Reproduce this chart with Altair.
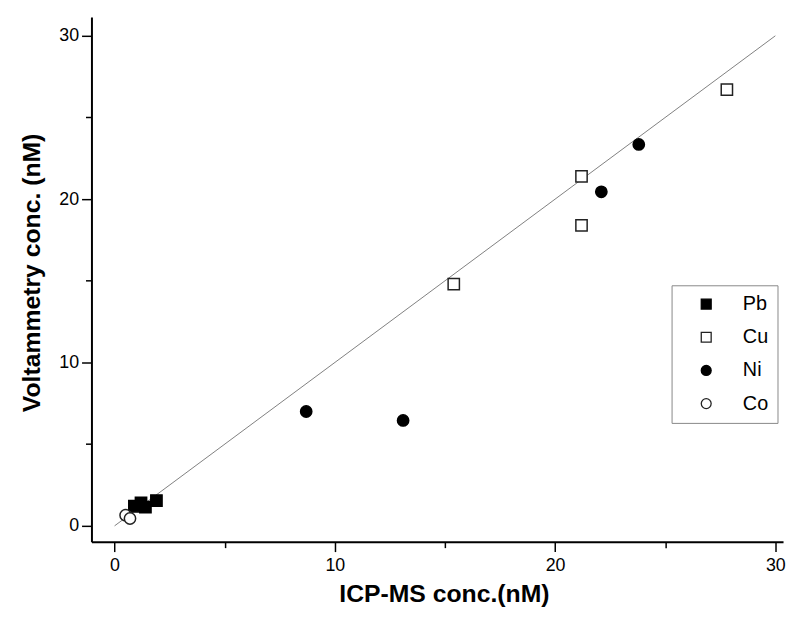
import altair as alt
import pandas as pd

metals = ["Pb", "Cu", "Ni", "Co"]
pb_x = [0.9, 1.2, 1.4, 1.9]
pb_y = [1.2, 1.4, 1.15, 1.55]
cu_x = [15.4, 21.2, 21.2, 27.8]
cu_y = [14.8, 21.4, 18.4, 26.7]
ni_x = [8.7, 13.1, 22.1, 23.8]
ni_y = [7.0, 6.45, 20.45, 23.35]
co_x = [0.5, 0.7]
co_y = [0.65, 0.45]
line_x = [0, 30]
line_y = [0, 30]
tick_values = [0, 5, 10, 15, 20, 25, 30]

rows = []
for m, xs, ys in [("Pb", pb_x, pb_y), ("Cu", cu_x, cu_y), ("Ni", ni_x, ni_y), ("Co", co_x, co_y)]:
    for a, b in zip(xs, ys):
        rows.append({"metal": m, "icp": a, "volt": b})
pts = pd.DataFrame(rows)
line_df = pd.DataFrame({"icp": line_x, "volt": line_y})

FONT = "Liberation Sans"
xscale = alt.Scale(domain=[-1.05, 30.35], nice=False, zero=False)
yscale = alt.Scale(domain=[-0.97, 31.15], nice=False, zero=False)

common_axis = dict(
    values=tick_values,
    labelExpr="datum.value % 10 == 0 ? datum.label : ''",
    tickSize={"condition": {"test": "datum.value % 10 != 0", "value": 6}, "value": 10},
    tickColor="black",
    tickWidth=1.5,
    domainColor="black",
    domainWidth=2,
    grid=False,
    labelFont=FONT,
    labelFontSize=18,
    labelColor="black",
    titleFont=FONT,
    titleFontSize=25,
    titleFontWeight="bold",
    titleColor="black",
)

xaxis = alt.Axis(title="ICP-MS conc.(nM)", labelPadding=5, titlePadding=7, titleX=356, **common_axis)
yaxis = alt.Axis(title="Voltammetry conc. (nM)", labelPadding=3, titlePadding=14, titleY=258, **common_axis)

legend = alt.Legend(
    title=None,
    orient="none",
    legendX=586,
    legendY=271,
    strokeColor="#888888",
    fillColor="white",
    padding=9,
    labelFont=FONT,
    labelFontSize=20,
    labelColor="black",
    labelExpr="datum.label + '\u00a0\u00a0'",
    symbolSize=100,
    symbolStrokeColor="black",
    symbolStrokeWidth=1.3,
    rowPadding=13.5,
    symbolOffset=16,
    labelOffset=27,
)

line = alt.Chart(line_df).mark_line(color="#808080", strokeWidth=1).encode(
    x=alt.X("icp:Q", scale=xscale, axis=xaxis),
    y=alt.Y("volt:Q", scale=yscale, axis=yaxis),
)

points = alt.Chart(pts).mark_point(strokeWidth=1.5, opacity=1, size=130).encode(
    x=alt.X("icp:Q", scale=xscale, axis=xaxis),
    y=alt.Y("volt:Q", scale=yscale, axis=yaxis),
    shape=alt.Shape("metal:N", scale=alt.Scale(domain=metals, range=["square", "square", "circle", "circle"]), legend=legend),
    fill=alt.Fill("metal:N", scale=alt.Scale(domain=metals, range=["black", "white", "black", "white"]), legend=legend),
    stroke=alt.Stroke("metal:N", scale=alt.Scale(domain=metals, range=["black", "#222222", "black", "#222222"]), legend=legend),
)

chart = alt.layer(line, points).properties(
    width=698.6,
    height=530,
    autosize=alt.AutoSizeParams(type="none"),
    padding={"left": 84.3, "top": 6, "right": 4, "bottom": 76},
    background="white",
).configure_view(stroke=None)

chart.save("out.html", embed_options={"renderer": "svg", "actions": False})
